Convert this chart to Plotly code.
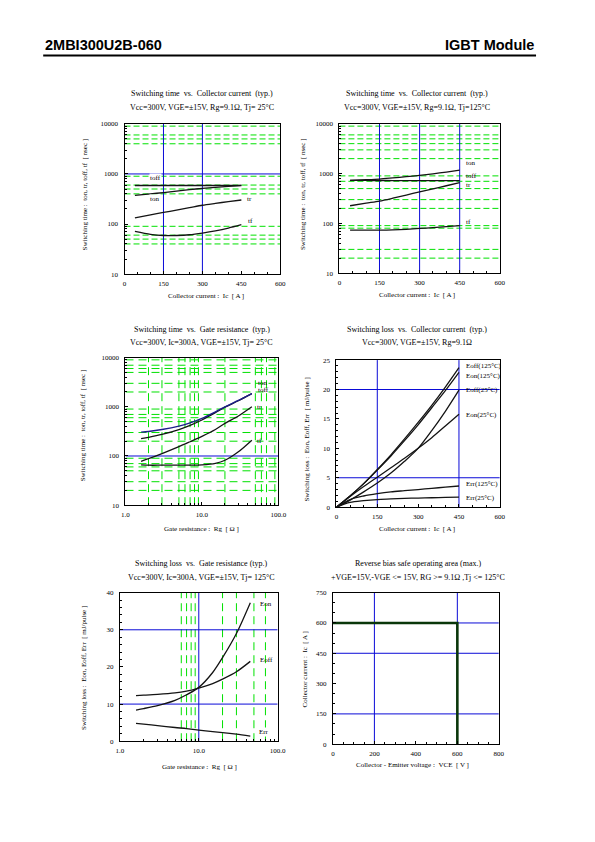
import plotly.graph_objects as go

W, H = 595, 842
SERIF = "Liberation Serif"
SANS = "Liberation Sans"
GREEN = "rgb(0,225,0)"
BLUE = "rgb(10,10,215)"
CURVE = "rgb(20,20,20)"

# ---------------- data ----------------
# Chart 1: switching time vs Ic, Tj=25C
ic1 = [40, 100, 150, 200, 250, 300, 350, 400, 450]
ton_25 = [373, 400, 425, 452, 485, 515, 540, 565, 587]
toff_25 = [588, 588, 588, 588, 588, 588, 588, 588, 590]
tr_25 = [132, 152, 170, 190, 212, 237, 258, 280, 302]
tf_25 = [71, 62, 59, 59, 61, 66, 73, 83, 97]

# Chart 2: switching time vs Ic, Tj=125C
ic2 = [40, 100, 150, 200, 250, 300, 350, 400, 450]
ton_125 = [733, 755, 778, 820, 868, 921, 990, 1075, 1176]
toff_125 = [730, 728, 727, 726, 725, 725, 725, 725, 725]
tr_125 = [226, 255, 280, 320, 370, 430, 495, 570, 658]
tf_125 = [73, 73, 73, 74, 76, 79, 82, 86, 90]

# Chart 3: switching time vs Rg
rg3 = [1.6, 2, 3, 5, 7, 10, 15, 20, 30, 45]
ton_rg = [305, 315, 345, 405, 470, 580, 790, 1000, 1350, 1850]
toff_rg = [225, 240, 275, 345, 420, 540, 760, 980, 1330, 1850]
tr_rg = [78, 88, 112, 155, 195, 250, 345, 460, 650, 1000]
tf_rg = [66, 65, 65, 65, 65, 66, 71, 82, 122, 210]

# Chart 4: switching loss vs Ic
ic4 = [0, 50, 100, 150, 200, 250, 300, 350, 400, 450]
eoff125 = [0, 1.9, 4.0, 6.4, 8.9, 11.6, 14.4, 17.3, 20.4, 23.7]
eon125 = [0, 1.9, 4.0, 6.3, 8.7, 11.3, 14.0, 16.9, 19.8, 22.9]
eoff25 = [0, 1.2, 2.6, 4.1, 5.8, 7.8, 10.0, 13.0, 16.3, 19.9]
eon25 = [0, 1.8, 3.5, 5.1, 6.7, 8.3, 10.0, 11.8, 13.8, 15.8]
err125 = [0, 1.3, 1.9, 2.3, 2.6, 2.8, 3.0, 3.2, 3.4, 3.6]
err25 = [0, 0.8, 1.1, 1.3, 1.4, 1.5, 1.55, 1.6, 1.65, 1.7]

# Chart 5: switching loss vs Rg
rg5 = [1.6, 2, 3, 5, 7, 10, 15, 20, 30, 45]
eon_rg = [8.4, 8.8, 9.6, 11.0, 12.5, 14.5, 18.5, 22.5, 29.0, 37.3]
eoff_rg = [12.3, 12.4, 12.6, 13.0, 13.5, 14.3, 15.5, 16.7, 18.7, 21.5]
err_rg = [4.8, 4.6, 4.2, 3.7, 3.4, 3.0, 2.6, 2.3, 1.9, 1.4]

# Chart 6: RBSOA
vce6 = [0, 600, 600]
ic6 = [600, 600, 0]

# grid values
g1_h = [40, 50, 60, 90, 400, 500, 600, 900, 4000, 5000, 6000, 9000]
b1_v = [150, 300]
b1_h = [1000]
g2_h = [20, 30, 80, 90, 200, 300, 500, 700, 900, 2000, 3000, 4000, 5000, 6000, 9000]
b2_v = [150, 300, 450]
g3_h = [20, 30, 50, 60, 70, 90, 200, 300, 500, 600, 700, 900, 2000, 3000, 5000, 6000, 7000, 9000]
g3_v = [2, 3, 5, 6, 7, 8, 9, 20, 50, 60, 70, 90]
b3_h = [100]
b4_v = [150, 450]
b4_h = [5, 20]
g5_v = [6, 7, 8, 9, 20, 30, 50, 70]
b5_v = [10]
b5_h = [10, 30]
b6_v = [200, 600]
b6_h = [150, 450, 600]

log_minor = [v * d for d in (10, 100, 1000) for v in (2, 3, 4, 5, 6, 7, 8, 9)]
rg_minor = [v * d for d in (1, 10) for v in (2, 3, 4, 5, 6, 7, 8, 9)]

# ---------------- helpers ----------------
def px(x):
    return x / W


def py(y):
    return 1 - y / H


fig = go.Figure()


def vlines(n, vals, yr, color, dash, width=1):
    xs, ys = [], []
    for v in vals:
        xs += [v, v, None]
        ys += [yr[0], yr[1], None]
    fig.add_trace(go.Scatter(x=xs, y=ys, xaxis="x" + n, yaxis="y" + n, mode="lines",
                             line=dict(color=color, width=width, dash=dash),
                             hoverinfo="skip", showlegend=False, connectgaps=False))


def hlines(n, vals, xr, color, dash, width=1):
    xs, ys = [], []
    for v in vals:
        xs += [xr[0], xr[1], None]
        ys += [v, v, None]
    fig.add_trace(go.Scatter(x=xs, y=ys, xaxis="x" + n, yaxis="y" + n, mode="lines",
                             line=dict(color=color, width=width, dash=dash),
                             hoverinfo="skip", showlegend=False, connectgaps=False))


def curve(n, x, y, color=CURVE, width=1.3):
    fig.add_trace(go.Scatter(x=x, y=y, xaxis="x" + n, yaxis="y" + n, mode="lines",
                             line=dict(color=color, width=width, shape="spline", smoothing=0.8),
                             hoverinfo="skip", showlegend=False))


D1 = "6px,3px"
D2 = "8px,5px"

# Chart 1
hlines("1", g1_h, [0, 600], GREEN, D1)
vlines("1", b1_v, [10, 10000], BLUE, "solid")
hlines("1", b1_h, [0, 600], BLUE, "solid")
for s in (toff_25, ton_25, tr_25, tf_25):
    curve("1", ic1, s)

# Chart 2
hlines("2", g2_h, [0, 600], GREEN, D1)
vlines("2", b2_v, [10, 10000], BLUE, "solid")
for s in (toff_125, ton_125, tr_125, tf_125):
    curve("2", ic2, s)

# Chart 3
hlines("3", g3_h, [1, 100], GREEN, D2)
vlines("3", g3_v, [10, 10000], GREEN, D2)
hlines("3", b3_h, [1, 100], BLUE, "solid")
curve("3", rg3, toff_rg)
curve("3", rg3, ton_rg, color="rgb(30,30,140)", width=1.4)
curve("3", rg3, tr_rg)
curve("3", rg3, tf_rg)

# Chart 4
vlines("4", b4_v, [0, 25], BLUE, "solid")
hlines("4", b4_h, [0, 600], BLUE, "solid")
for s in (eoff125, eon125, eoff25, eon25, err125, err25):
    curve("4", ic4, s)

# Chart 5
vlines("5", g5_v, [0, 40], GREEN, D2)
vlines("5", b5_v, [0, 40], BLUE, "solid")
hlines("5", b5_h, [1, 100], BLUE, "solid")
for s in (eon_rg, eoff_rg, err_rg):
    curve("5", rg5, s)

# Chart 6
vlines("6", b6_v, [0, 750], BLUE, "solid")
hlines("6", b6_h, [0, 800], BLUE, "solid")
fig.add_trace(go.Scatter(x=vce6, y=ic6, xaxis="x6", yaxis="y6", mode="lines",
                         line=dict(color="rgb(10,55,10)", width=2.6),
                         hoverinfo="skip", showlegend=False))

# ---------------- axes ----------------
TF = dict(family=SERIF, size=7, color="black")


def lin_axis(dom, rng, tickvals, minor_dtick, ticktext=None):
    d = dict(domain=dom, range=rng, tickmode="array", tickvals=tickvals,
             showgrid=False, zeroline=False, showline=True, linecolor="black", linewidth=1,
             mirror=True, ticks="inside", ticklen=3, tickcolor="black", tickfont=TF,
             minor=dict(dtick=minor_dtick, ticks="inside", ticklen=2, tickcolor="black", showgrid=False))
    if ticktext:
        d["ticktext"] = ticktext
    return d


def log_axis(dom, rng, tickvals, ticktext, minor_vals):
    return dict(domain=dom, type="log", range=rng, tickmode="array", tickvals=tickvals,
                ticktext=ticktext, showgrid=False, zeroline=False, showline=True,
                linecolor="black", linewidth=1, mirror=True, ticks="inside", ticklen=3,
                tickcolor="black", tickfont=TF,
                minor=dict(tickmode="array", tickvals=minor_vals, ticks="inside", ticklen=2,
                           tickcolor="black", showgrid=False))


t_vals = [10, 100, 1000, 10000]
t_text = ["10", "100", "1000", "10000"]

axes = {}
# chart 1
axes["xaxis"] = lin_axis([px(123), px(282)], [0, 600], [0, 150, 300, 450, 600], 50)
axes["yaxis"] = log_axis([py(272.7), py(121)], [1, 4], t_vals, t_text, log_minor)
# chart 2
axes["xaxis2"] = lin_axis([px(342.3), px(506)], [0, 600], [0, 150, 300, 450, 600], 50)
axes["yaxis2"] = log_axis([py(271.7), py(121)], [1, 4], t_vals, t_text, log_minor)
# chart 3
axes["xaxis3"] = log_axis([px(124), px(280)], [0, 2], [1, 10, 100], ["1.0", "10.0", "100.0"], rg_minor)
axes["yaxis3"] = log_axis([py(506), py(357)], [1, 4], t_vals, t_text, log_minor)
# chart 4
axes["xaxis4"] = lin_axis([px(339.3), px(506)], [0, 600], [0, 150, 300, 450, 600], 50)
axes["yaxis4"] = lin_axis([py(508), py(359.5)], [0, 25], [0, 5, 10, 15, 20, 25], 1)
# chart 5
axes["xaxis5"] = log_axis([px(118.3), px(279.3)], [0, 2], [1, 10, 100], ["1.0", "10.0", "100.0"], rg_minor)
axes["yaxis5"] = lin_axis([py(744.3), py(594.3)], [0, 40], [0, 10, 20, 30, 40], 2)
# chart 6
axes["xaxis6"] = lin_axis([px(335.7), px(505)], [0, 800], [0, 200, 400, 600, 800], 50)
axes["yaxis6"] = lin_axis([py(747.3), py(594.3)], [0, 750], [0, 150, 300, 450, 600, 750], 50)

for i in range(1, 7):
    sx = "" if i == 1 else str(i)
    axes["xaxis" + sx]["anchor"] = "y" + sx
    axes["yaxis" + sx]["anchor"] = "x" + sx
    axes["xaxis" + sx]["ticklabelstandoff"] = 2
    axes["yaxis" + sx]["ticklabelstandoff"] = 4
    axes["xaxis" + sx]["fixedrange"] = True
    axes["yaxis" + sx]["fixedrange"] = True

# ---------------- text ----------------
NB = "\u00a0"
ann = []


def text(t, x, y, size=8, xanchor="center", angle=0, family=SERIF, bg=None, color="black"):
    a = dict(text=t, x=px(x), y=py(y), xref="paper", yref="paper", showarrow=False,
             xanchor=xanchor, yanchor="middle", textangle=angle,
             font=dict(family=family, size=size, color=color))
    if bg:
        a["bgcolor"] = bg
        a["borderpad"] = 0
    ann.append(a)


text("<b>2MBI300U2B-060</b>", 40, 41, size=14.5, xanchor="left", family=SANS)
text("<b>IGBT Module</b>", 543, 41, size=14.5, xanchor="right", family=SANS)

sw_ic = "Switching time" + NB * 2 + "vs." + NB * 2 + "Collector current" + NB * 2 + "(typ.)"
text(sw_ic, 202, 90)
text("Vcc=300V, VGE=±15V, Rg=9.1Ω, Tj= 25°C", 202, 104)
text(sw_ic, 421, 90)
text("Vcc=300V, VGE=±15V, Rg=9.1Ω, Tj=125°C", 421, 104)
text("Switching time" + NB * 2 + "vs." + NB * 2 + "Gate resistance" + NB * 2 + "(typ.)", 202, 329)
text("Vcc=300V, Ic=300A, VGE=±15V, Tj= 25°C", 202, 342)
text("Switching loss" + NB * 2 + "vs." + NB * 2 + "Collector current" + NB * 2 + "(typ.)", 422, 329)
text("Vcc=300V, VGE=±15V, Rg=9.1Ω", 422, 342)
text("Switching loss" + NB * 2 + "vs." + NB * 2 + "Gate resistance (typ.)", 202, 565)
text("Vcc=300V, Ic=300A, VGE=±15V, Tj= 125°C", 202, 579)
text("Reverse bias safe operating area (max.)", 423, 565)
text("+VGE=15V,-VGE <= 15V, RG >= 9.1Ω ,Tj <= 125°C", 423, 579)

xt_ic = "Collector current" + NB + ":" + NB + NB + "Ic" + NB + NB + "[ A ]"
xt_rg = "Gate resistance" + NB + ":" + NB + NB + "Rg" + NB + NB + "[ Ω ]"
yt_sw = "Switching time" + NB + ":" + NB + NB + "ton, tr, toff, tf" + NB + NB + "[ nsec ]"
yt_ls = "Switching loss" + NB + ":" + NB + NB + "Eon, Eoff, Err" + NB + NB + "[ mJ/pulse ]"
text(xt_ic, 206, 295, size=7)
text(xt_ic, 422, 294, size=7)
text(xt_rg, 202, 530, size=7)
text(xt_ic, 422, 530, size=7)
text(xt_rg, 200, 770, size=7)
text("Collector - Emitter voltage" + NB + ":" + NB + NB + "VCE" + NB + NB + "[ V ]", 417, 768, size=7)
text(yt_sw, 83, 192, size=7, angle=-90)
text(yt_sw, 305, 192, size=7, angle=-90)
text(yt_sw, 81, 425, size=7, angle=-90)
text(yt_ls, 309, 440, size=7, angle=-90)
text(yt_ls, 81, 670, size=7, angle=-90)
text("Collector current" + NB + ":" + NB + NB + "Ic" + NB + NB + "[ A ]", 307, 672, size=7, angle=-90)

# curve labels
text("toff", 148, 175.3, size=7, xanchor="left", bg="white")
text("ton", 148, 197, size=7, xanchor="left", bg="white")
text("tr", 246, 197, size=7, xanchor="left")
text("tf", 247, 219, size=7, xanchor="left")

text("ton", 469, 161, size=7, xanchor="left")
text("toff", 469, 174, size=7, xanchor="left")
text("tr", 469, 183, size=7, xanchor="left")
text("tf", 469, 220, size=7, xanchor="left")

text("ton", 257, 382.5, size=7, xanchor="left")
text("toff", 257, 389.5, size=7, xanchor="left")
text("tr", 256, 407, size=7, xanchor="left")
text("tf", 256, 441, size=7, xanchor="left")

text("Eoff(125°C)", 469, 365.7, size=7, xanchor="left")
text("Eon(125°C)", 469, 375.3, size=7, xanchor="left")
text("Eoff(25°C)", 469, 389.7, size=7, xanchor="left")
text("Eon(25°C)", 469, 414.7, size=7, xanchor="left")
text("Err(125°C)", 469, 484.7, size=7, xanchor="left")
text("Err(25°C)", 469, 499, size=7, xanchor="left")

text("Eon", 259, 606, size=7, xanchor="left")
text("Eoff", 259, 662, size=7, xanchor="left")
text("Err", 259, 735, size=7, xanchor="left", bg="white")

shapes = [dict(type="line", xref="paper", yref="paper", x0=px(40), x1=px(543), y0=py(52), y1=py(52),
               line=dict(color="black", width=2))]

fig.update_layout(
    width=W, height=H, margin=dict(l=0, r=0, t=0, b=0), autosize=False,
    paper_bgcolor="white", plot_bgcolor="white",
    font=dict(family=SERIF, size=7, color="black"),
    showlegend=False, annotations=ann, shapes=shapes, **axes,
)

fig.write_html(
    "out.html",
    config={"displayModeBar": False},
    post_script="document.body.style.margin='0';",
)
